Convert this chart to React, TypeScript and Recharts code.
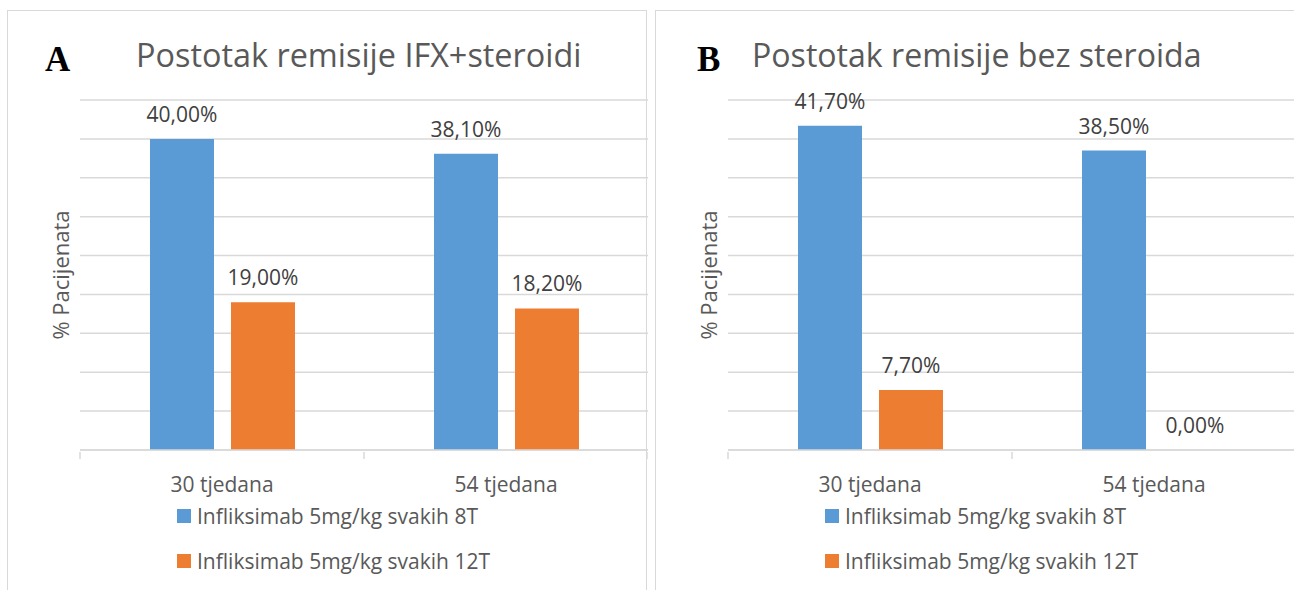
import React from "react";
import { BarChart, Bar, XAxis, YAxis, CartesianGrid, LabelList, Legend } from "recharts";

// data
const categories = ["30 tjedana", "54 tjedana"];
const seriesNames = ["Infliksimab 5mg/kg svakih 8T", "Infliksimab 5mg/kg svakih 12T"];
const remissionIfx8 = [40.0, 38.1];
const remissionIfx12 = [19.0, 18.2];
const steroidFree8 = [41.7, 38.5];
const steroidFree12 = [7.7, 0.0];
const yTicks = [0, 5, 10, 15, 20, 25, 30, 35, 40, 45];

const COLORS = ["#5b9bd5", "#ed7d31"];
const GRID = "#d9d9d9";
const FONT = "'Open Sans', sans-serif";

const PANEL_W = 641;
const PANEL_H = 580;
const PLOT_LEFT = 73;
const HALF_BAND = (PANEL_W - PLOT_LEFT) / categories.length / 2;

const fmt = (v: number) => Number(v).toFixed(2).replace(".", ",") + "%";

function CategoryTick(props: any) {
  const { x, y, payload, index } = props;
  const half = payload.offset || HALF_BAND;
  return (
    <g>
      <line x1={x - half} x2={x - half} y1={y} y2={y + 7} stroke={GRID} strokeWidth={1.5} />
      {index === categories.length - 1 && (
        <line x1={x + half} x2={x + half} y1={y} y2={y + 7} stroke={GRID} strokeWidth={1.5} />
      )}
      <text x={x} y={y + 40} textAnchor="middle" fill="#595959" fontSize={21} fontFamily={FONT}>
        {payload.value}
      </text>
    </g>
  );
}

function LegendBox(props: any) {
  const items = [...(props.payload || [])].sort(
    (p: any, q: any) => seriesNames.indexOf(p.value) - seriesNames.indexOf(q.value)
  );
  return (
    <div style={{ height: 90, fontFamily: FONT, fontSize: 21, color: "#595959" }}>
      {items.map((p: any, i: number) => (
        <div key={i} style={{ height: 45, display: "flex", alignItems: "center" }}>
          <span style={{ width: 14, height: 14, background: p.color, display: "inline-block", marginRight: 6 }} />
          <span>{p.value}</span>
        </div>
      ))}
    </div>
  );
}

function Panel({ left, letter, letterX, title, titleX, titleSize, s1, s2 }: any) {
  const data = categories.map((c, i) => ({ name: c, a: s1[i], b: s2[i] }));
  return (
    <div style={{ position: "absolute", left, top: 10, width: PANEL_W, height: PANEL_H }}>
      <div
        style={{
          position: "absolute", left: 0, top: 0, width: PANEL_W - 3, height: 600,
          borderTop: `1.5px solid ${GRID}`, borderLeft: `1.5px solid ${GRID}`, borderRight: `1.5px solid ${GRID}`,
        }}
      />
      <BarChart
        width={PANEL_W}
        height={PANEL_H}
        data={data}
        margin={{ top: 90, right: 0, left: 36, bottom: 0 }}
        barSize={64}
        barGap={17}
      >
        <CartesianGrid vertical={false} stroke={GRID} strokeWidth={1.5} />
        <YAxis
          type="number"
          domain={[0, 45]}
          ticks={yTicks}
          interval={0}
          tick={() => <g />}
          axisLine={false}
          tickLine={false}
          width={PLOT_LEFT - 36}
          label={{ value: "% Pacijenata", angle: -90, position: "center", fill: "#595959", fontSize: 22, fontFamily: FONT }}
        />
        <XAxis
          dataKey="name"
          axisLine={{ stroke: GRID, strokeWidth: 1.5 }}
          tickLine={false}
          tickSize={0}
          height={50}
          tick={<CategoryTick />}
        />
        <Legend
          verticalAlign="bottom"
          align="left"
          content={<LegendBox />}
          wrapperStyle={{ left: 170, top: 483, bottom: "auto", width: 440 }}
        />
        <Bar dataKey="a" name={seriesNames[0]} fill={COLORS[0]} minPointSize={0.01} isAnimationActive={false}>
          <LabelList dataKey="a" position="top" offset={17} formatter={fmt as any} fill="#404040" fontSize={21} fontFamily={FONT} />
        </Bar>
        <Bar dataKey="b" name={seriesNames[1]} fill={COLORS[1]} minPointSize={0.01} isAnimationActive={false}>
          <LabelList dataKey="b" position="top" offset={17} formatter={fmt as any} fill="#404040" fontSize={21} fontFamily={FONT} />
        </Bar>
      </BarChart>
      <svg style={{ position: "absolute", left: 0, top: 0, pointerEvents: "none" }} width={PANEL_W} height={100}>
        <text x={letterX} y={61} fontFamily="'Liberation Serif', serif" fontWeight="bold" fontSize={35} fill="#000">
          {letter}
        </text>
        <text x={titleX} y={57} fontFamily={FONT} fontSize={titleSize} fill="#595959">
          {title}
        </text>
      </svg>
    </div>
  );
}

export default function App() {
  return (
    <div style={{ position: "absolute", left: 0, top: 0, width: 1294, height: 590, background: "#fff", overflow: "hidden" }}>
      <Panel left={7} letter="A" letterX={38} title="Postotak remisije IFX+steroidi" titleX={129} titleSize={32.4}
        s1={remissionIfx8} s2={remissionIfx12} />
      <Panel left={655} letter="B" letterX={42} title="Postotak remisije bez steroida" titleX={97} titleSize={32.1}
        s1={steroidFree8} s2={steroidFree12} />
    </div>
  );
}
